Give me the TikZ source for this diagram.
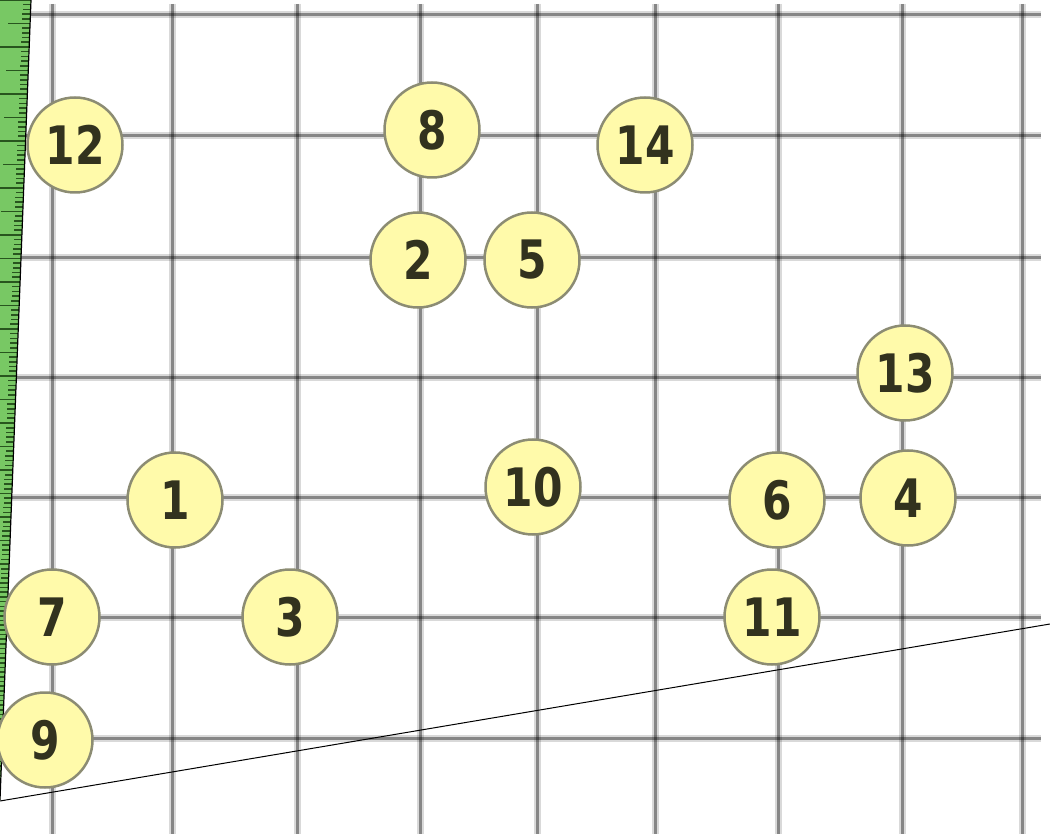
\documentclass[tikz,border=0pt]{standalone}
\usepackage{fontspec}
\newfontfamily\numfont{DejaVu Sans}
\definecolor{nodefill}{RGB}{255,250,170}
\definecolor{nodeedge}{RGB}{140,140,115}
\definecolor{nodetext}{RGB}{50,50,30}
\definecolor{rulergreen}{RGB}{120,200,100}
\definecolor{tickgreen}{RGB}{40,85,30}
\tikzset{
  gridhalo/.style={line width=7pt, black, opacity=0.15},
  gridcore/.style={line width=3pt, black, opacity=0.38},
  ball/.style={circle, draw=nodeedge, line width=2.5pt, fill=nodefill,
    minimum size=95pt, inner sep=0pt, text=nodetext,
    font=\numfont\bfseries\fontsize{53}{53}\selectfont},
  tick/.style={line width=1.6pt, tickgreen},
}
\newcommand{\numlab}[1]{\scalebox{0.8}[1]{#1}}
\begin{document}
\begin{tikzpicture}[x=1pt,y=-1pt]
\useasboundingbox (0,0) rectangle (1050,834);
\clip (0,0) rectangle (1050,834);
\fill[white] (0,0) rectangle (1050,834);
% grid
\foreach \gx in {52,172,297,420,537,655,778,902,1022}{
  \draw[gridhalo] (\gx,4) -- (\gx,840);
  \draw[gridcore] (\gx,4) -- (\gx,840);
}
\foreach \gy in {15,136,258,378,497,617,738}{
  \draw[gridhalo] (0,\gy) -- (1041,\gy);
  \draw[gridcore] (0,\gy) -- (1041,\gy);
}
% ruler
\fill[rulergreen] (-10,0) -- (31,0) -- (0,800) -- (-10,800) -- cycle;
\foreach \i in {0,...,170}{
  \pgfmathsetmacro{\ty}{\i*4.7}
  \pgfmathsetmacro{\ex}{31-\ty*0.03875}
  \pgfmathsetmacro{\len}{ifthenelse(mod(\i,10)==0,32,ifthenelse(mod(\i,5)==0,22,8))}
  \draw[tick] (\ex,\ty) -- ({\ex-\len},\ty);
}
\coordinate (rtop) at (31,0);
\coordinate (rbot) at (0,800);
\draw[line width=1.2pt, black] (rtop) -- (rbot);
% slanted line
\coordinate (la) at (0,801);
\coordinate (lb) at (1050,624);
\draw[line width=1pt, black] (la) -- (lb);
% nodes
\node[ball] (n12) at (75,145) {\numlab{12}};
\node[ball] (n8)  at (432,130) {\numlab{8}};
\node[ball] (n14) at (645,145) {\numlab{14}};
\node[ball] (n2)  at (418,260) {\numlab{2}};
\node[ball] (n5)  at (532,260) {\numlab{5}};
\node[ball] (n13) at (905,373) {\numlab{13}};
\node[ball] (n1)  at (175,500) {\numlab{1}};
\node[ball] (n10) at (533,487) {\numlab{10}};
\node[ball] (n6)  at (777,500) {\numlab{6}};
\node[ball] (n4)  at (908,498) {\numlab{4}};
\node[ball] (n7)  at (52,617) {\numlab{7}};
\node[ball] (n3)  at (290,617) {\numlab{3}};
\node[ball] (n11) at (772,617) {\numlab{11}};
\node[ball] (n9)  at (45,740) {\numlab{9}};
\end{tikzpicture}
\end{document}
